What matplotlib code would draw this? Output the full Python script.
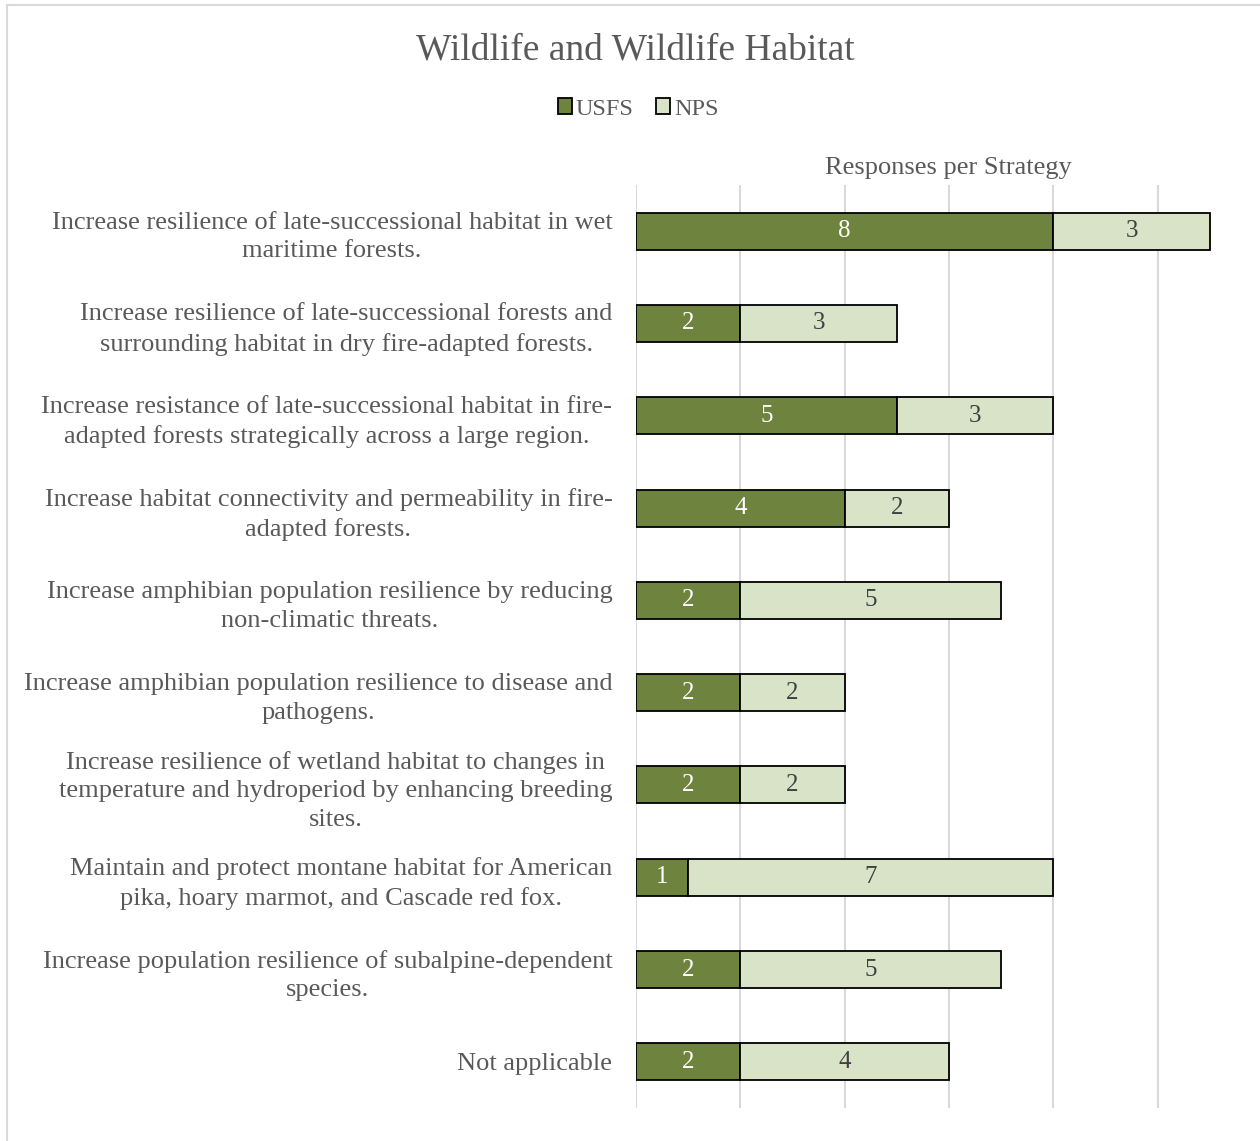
import matplotlib.pyplot as plt
from matplotlib.patches import Rectangle

plt.rcParams['font.family'] = ['Liberation Serif', 'DejaVu Serif']

strategies = [
    "Increase resilience of late-successional habitat in wet\nmaritime forests.",
    "Increase resilience of late-successional forests and\nsurrounding habitat in dry fire-adapted forests.",
    "Increase resistance of late-successional habitat in fire-\nadapted forests strategically across a large region.",
    "Increase habitat connectivity and permeability in fire-\nadapted forests.",
    "Increase amphibian population resilience by reducing\nnon-climatic threats.",
    "Increase amphibian population resilience to disease and\npathogens.",
    "Increase resilience of wetland habitat to changes in\ntemperature and hydroperiod by enhancing breeding\nsites.",
    "Maintain and protect montane habitat for American\npika, hoary marmot, and Cascade red fox.",
    "Increase population resilience of subalpine-dependent\nspecies.",
    "Not applicable",
]
usfs = [8, 2, 5, 4, 2, 2, 2, 1, 2, 2]
nps = [3, 3, 3, 2, 5, 2, 2, 7, 5, 4]

dark_green = '#6E843E'
light_green = '#D9E3C8'
text_gray = '#595959'

fig = plt.figure(figsize=(12.6, 11.41), dpi=100)
W, H = 1260, 1141

# light gray outer chart border
fig.patches.append(Rectangle((7 / W, -0.01), 1.1, 1 - 5 / H + 0.01,
                             transform=fig.transFigure, fill=False,
                             edgecolor='#d9d9d9', linewidth=1.5))

ax = fig.add_axes([636 / W, 1 - 1108 / H, 626 / W, 923 / H])
y = range(len(strategies))

b1 = ax.barh(y, usfs, height=0.4, color=dark_green, edgecolor='black',
             linewidth=1.3, label='USFS', zorder=3)
b2 = ax.barh(y, nps, left=usfs, height=0.4, color=light_green,
             edgecolor='black', linewidth=1.3, label='NPS', zorder=3)
ax.bar_label(b1, label_type='center', color='white', fontsize=18)
ax.bar_label(b2, label_type='center', color='#404040', fontsize=18)

ax.set_xlim(0, 12)
ax.set_ylim(len(strategies) - 0.5, -0.5)
ax.set_xticks([0, 2, 4, 6, 8, 10])
ax.set_xticklabels([])
ax.grid(axis='x', color='#d9d9d9', linewidth=1.5, zorder=0)
ax.tick_params(length=0)
ax.set_yticks(list(y))
ax.set_yticklabels(strategies, fontsize=19, color=text_gray)
for t in ax.get_yticklabels():
    t.set_multialignment('center')
    t.set_linespacing(1.4)
ax.tick_params(axis='y', pad=17)
for s in ax.spines.values():
    s.set_visible(False)

fig.text(948 / W, 1 - 168 / H, 'Responses per Strategy', ha='center',
         va='center', fontsize=19, color=text_gray)
fig.text(635 / W, 1 - 50 / H, 'Wildlife and Wildlife Habitat', ha='center',
         va='center', fontsize=27, color=text_gray)

leg = fig.legend(handles=[b1, b2], loc='center', ncol=2,
                 bbox_to_anchor=(638 / W, 1 - 109 / H), frameon=False,
                 fontsize=17.5, handlelength=0.6, handleheight=0.6,
                 handletextpad=0.15, columnspacing=0.9)
for t in leg.get_texts():
    t.set_color(text_gray)

fig.savefig('out.png', dpi=100)
